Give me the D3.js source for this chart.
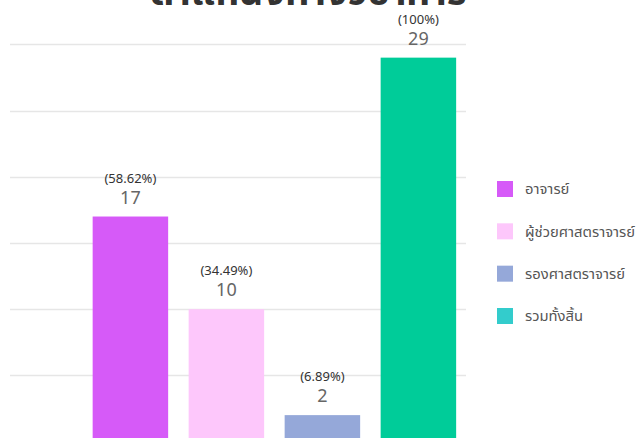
<!DOCTYPE html>
<html>
<head>
<meta charset="utf-8">
<script src="https://cdn.jsdelivr.net/npm/d3@7"></script>
<style>
  html, body { margin: 0; padding: 0; background: #fff; }
  svg { display: block; }
  text { font-family: "Noto Sans Thai", "Noto Sans Thai UI", "Noto Sans", "DejaVu Sans", sans-serif; }
</style>
</head>
<body>
<svg id="chart" width="637" height="438"></svg>
<script>
const title = "ตำแหน่งทางวิชาการ";
const categories = ["อาจารย์", "ผู้ช่วยศาสตราจารย์", "รองศาสตราจารย์", "รวมทั้งสิ้น"];
const values = [17, 10, 2, 29];
const percentLabels = ["(58.62%)", "(34.49%)", "(6.89%)", "(100%)"];
const barColors = ["#d65af8", "#fdc7fb", "#95a8d9", "#00cc99"];
const legendColors = ["#d65af8", "#fdc7fb", "#95a8d9", "#33cccc"];
const yTicks = [0, 5, 10, 15, 20, 25, 30];

const svg = d3.select("#chart");

const y = d3.scaleLinear().domain([0, 30]).range([441.6, 44.4]);
const gridX0 = 10, gridX1 = 466;
const x = d3.scaleBand().domain(categories).range([82.4, 466.4])
  .paddingInner(0.2135).paddingOuter(0.1068);

// gridlines
svg.append("g").selectAll("line").data(yTicks).join("line")
  .attr("x1", gridX0).attr("x2", gridX1)
  .attr("y1", d => Math.round(y(d)) + 0.5).attr("y2", d => Math.round(y(d)) + 0.5)
  .attr("stroke", "#e6e6e6").attr("stroke-width", 1.5);

// title
svg.append("text").attr("x", 308).attr("y", 5)
  .attr("text-anchor", "middle")
  .attr("font-size", 38).attr("font-weight", "bold").attr("fill", "#333")
  .text(title);

// bars
svg.append("g").selectAll("rect").data(categories).join("rect")
  .attr("x", d => x(d)).attr("width", x.bandwidth())
  .attr("y", (d, i) => y(values[i]))
  .attr("height", (d, i) => y(0) - y(values[i]))
  .attr("fill", (d, i) => barColors[i]);

// value labels
svg.append("g").selectAll("text").data(categories).join("text")
  .attr("x", d => x(d) + x.bandwidth() / 2)
  .attr("y", (d, i) => y(values[i]) - 13)
  .attr("text-anchor", "middle")
  .attr("font-size", 18).attr("fill", "#666")
  .text((d, i) => values[i]);

// percent labels
svg.append("g").selectAll("text").data(categories).join("text")
  .attr("x", d => x(d) + x.bandwidth() / 2)
  .attr("y", (d, i) => y(values[i]) - 34)
  .attr("text-anchor", "middle")
  .attr("font-size", 13).attr("fill", "#333")
  .text((d, i) => percentLabels[i]);

// legend
const legendY = d3.scalePoint().domain(categories).range([189, 316]);
const lg = svg.append("g").selectAll("g").data(categories).join("g")
  .attr("transform", d => `translate(497,${legendY(d)})`);
lg.append("rect").attr("x", 0).attr("y", -8).attr("width", 16).attr("height", 16)
  .attr("fill", (d, i) => legendColors[i]);
lg.append("text").attr("x", 28).attr("y", 0).attr("dy", "0.35em")
  .attr("font-size", 14.8).attr("fill", "#555")
  .text(d => d);
</script>
</body>
</html>
